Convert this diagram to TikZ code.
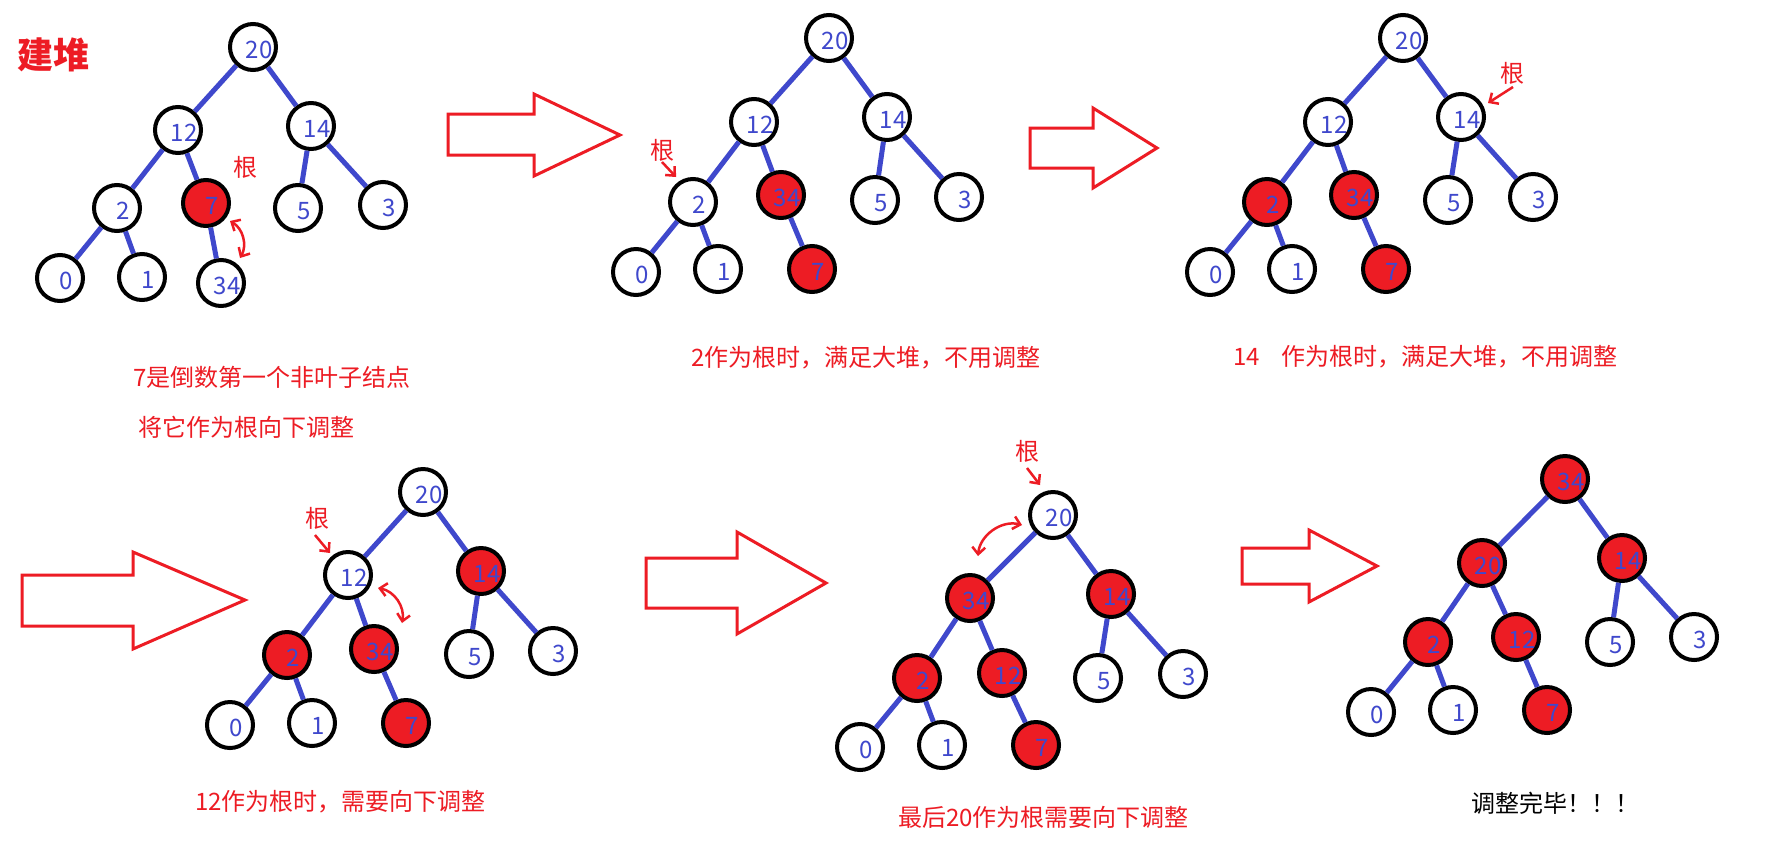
\documentclass[tikz,border=0pt]{standalone}
\usepackage{fontspec}
\newfontfamily\cjk{Noto Sans CJK SC}
\usetikzlibrary{arrows.meta}
\definecolor{hblue}{HTML}{3F48CC}
\definecolor{hred}{HTML}{ED1C24}
\begin{document}
\begin{tikzpicture}[x=1pt,y=-1pt,
 numlab/.style={text=hblue, font=\cjk\fontsize{24}{24}\selectfont, xshift=6pt, yshift=-3pt, inner sep=0pt},
 hn/.style={circle, draw=black, line width=4pt, minimum size=46pt, inner sep=0pt, label={[numlab]center:#1}},
 hr/.style={hn=#1, fill=hred},
 ed/.style={draw=hblue, line width=5pt},
 note/.style={text=hred, font=\cjk\fontsize{24}{28}\selectfont, anchor=west, inner sep=0pt},
 gen/.style={text=hred, font=\cjk\fontsize{24}{28}\selectfont, inner sep=0pt},
 bigarrow/.style={draw=hred, line width=3pt, line join=miter},
 swapar/.style={draw=hred, line width=2.5pt, {Straight Barb[length=7pt,width=13pt]}-{Straight Barb[length=7pt,width=13pt]}},
 ptr/.style={draw=hred, line width=2.5pt, -{Straight Barb[length=7pt,width=13pt]}},
]
\useasboundingbox (0,0) rectangle (1784,847);
\fill[white] (0,0) rectangle (1784,847);

% title
\node[text=hred, font=\cjk\bfseries\fontsize{36}{40}\selectfont, inner sep=0pt] (title) at (53,55) {建堆};

% ---------- panel 1 ----------
\node[hn=20] (a20) at (253,47) {};
\node[hn=12] (a12) at (178,130) {};
\node[hn=14] (a14) at (311,126) {};
\node[hn=2]  (a2)  at (117,208) {};
\node[hr=7]  (a7)  at (206,203) {};
\node[hn=5]  (a5)  at (298,208) {};
\node[hn=3]  (a3)  at (383,205) {};
\node[hn=0]  (a0)  at (60,278) {};
\node[hn=1]  (a1)  at (142,277) {};
\node[hn=34] (a34) at (221,283) {};
\foreach \p/\c in {a20/a12,a20/a14,a12/a2,a12/a7,a14/a5,a14/a3,a2/a0,a2/a1,a7/a34} \draw[ed] (\p) -- (\c);
\node[gen] (g1) at (245,167) {根};
\coordinate (s1a) at (230,221);
\coordinate (s1b) at (240,258);
\draw[swapar] (s1a) to[bend left=45] (s1b);

% ---------- panel 2 ----------
\node[hn=20] (b20) at (829,38) {};
\node[hn=12] (b12) at (754,122) {};
\node[hn=14] (b14) at (887,117) {};
\node[hn=2]  (b2)  at (693,202) {};
\node[hr=34] (b34) at (781,195) {};
\node[hn=5]  (b5)  at (875,200) {};
\node[hn=3]  (b3)  at (959,197) {};
\node[hn=0]  (b0)  at (636,272) {};
\node[hn=1]  (b1)  at (718,269) {};
\node[hr=7]  (b7)  at (812,269) {};
\foreach \p/\c in {b20/b12,b20/b14,b12/b2,b12/b34,b14/b5,b14/b3,b2/b0,b2/b1,b34/b7} \draw[ed] (\p) -- (\c);
\node[gen] (g2) at (662,150) {根};
\coordinate (p2a) at (662,162);
\coordinate (p2b) at (676,177);
\draw[ptr] (p2a) -- (p2b);

% ---------- panel 3 ----------
\node[hn=20] (c20) at (1403,38) {};
\node[hn=12] (c12) at (1328,122) {};
\node[hn=14] (c14) at (1461,117) {};
\node[hr=2]  (c2)  at (1267,202) {};
\node[hr=34] (c34) at (1354,195) {};
\node[hn=5]  (c5)  at (1448,200) {};
\node[hn=3]  (c3)  at (1533,197) {};
\node[hn=0]  (c0)  at (1210,272) {};
\node[hn=1]  (c1)  at (1292,269) {};
\node[hr=7]  (c7)  at (1386,269) {};
\foreach \p/\c in {c20/c12,c20/c14,c12/c2,c12/c34,c14/c5,c14/c3,c2/c0,c2/c1,c34/c7} \draw[ed] (\p) -- (\c);
\node[gen] (g3) at (1512,73) {根};
\coordinate (p3a) at (1513,87);
\coordinate (p3b) at (1488,103);
\draw[ptr] (p3a) -- (p3b);

% ---------- panel 4 ----------
\node[hn=20] (d20) at (423,492) {};
\node[hn=12] (d12) at (348,575) {};
\node[hr=14] (d14) at (481,571) {};
\node[hr=2]  (d2)  at (287,655) {};
\node[hr=34] (d34) at (374,649) {};
\node[hn=5]  (d5)  at (469,654) {};
\node[hn=3]  (d3)  at (553,651) {};
\node[hn=0]  (d0)  at (230,725) {};
\node[hn=1]  (d1)  at (312,723) {};
\node[hr=7]  (d7)  at (406,723) {};
\foreach \p/\c in {d20/d12,d20/d14,d12/d2,d12/d34,d14/d5,d14/d3,d2/d0,d2/d1,d34/d7} \draw[ed] (\p) -- (\c);
\node[gen] (g4) at (317,518) {根};
\coordinate (p4a) at (315,535);
\coordinate (p4b) at (330,553);
\draw[ptr] (p4a) -- (p4b);
\coordinate (s4a) at (378,588);
\coordinate (s4b) at (402,623);
\draw[swapar] (s4a) to[bend left=45] (s4b);

% ---------- panel 5 ----------
\node[hn=20] (e20) at (1053,515) {};
\node[hr=34] (e34) at (970,598) {};
\node[hr=14] (e14) at (1111,594) {};
\node[hr=2]  (e2)  at (917,678) {};
\node[hr=12] (e12) at (1002,673) {};
\node[hn=5]  (e5)  at (1098,678) {};
\node[hn=3]  (e3)  at (1183,674) {};
\node[hn=0]  (e0)  at (860,747) {};
\node[hn=1]  (e1)  at (942,745) {};
\node[hr=7]  (e7)  at (1036,745) {};
\foreach \p/\c in {e20/e34,e20/e14,e34/e2,e34/e12,e14/e5,e14/e3,e2/e0,e2/e1,e12/e7} \draw[ed] (\p) -- (\c);
\node[gen] (g5) at (1027,451) {根};
\coordinate (p5a) at (1027,468);
\coordinate (p5b) at (1040,485);
\draw[ptr] (p5a) -- (p5b);
\coordinate (s5a) at (1022,525);
\coordinate (s5b) at (978,556);
\draw[swapar] (s5a) to[bend right=50] (s5b);

% ---------- panel 6 ----------
\node[hr=34] (f34) at (1565,479) {};
\node[hr=20] (f20) at (1482,563) {};
\node[hr=14] (f14) at (1622,558) {};
\node[hr=2]  (f2)  at (1428,642) {};
\node[hr=12] (f12) at (1516,637) {};
\node[hn=5]  (f5)  at (1610,642) {};
\node[hn=3]  (f3)  at (1694,637) {};
\node[hn=0]  (f0)  at (1371,712) {};
\node[hn=1]  (f1)  at (1453,710) {};
\node[hr=7]  (f7)  at (1547,710) {};
\foreach \p/\c in {f34/f20,f34/f14,f20/f2,f20/f12,f14/f5,f14/f3,f2/f0,f2/f1,f12/f7} \draw[ed] (\p) -- (\c);

% ---------- big arrows ----------
\draw[bigarrow] (448,114) -- (534,114) -- (534,94) -- (620,135) -- (534,176) -- (534,155) -- (448,155) -- cycle;
\draw[bigarrow] (1030,128) -- (1093,128) -- (1093,108) -- (1157,148) -- (1093,188) -- (1093,168) -- (1030,168) -- cycle;
\draw[bigarrow] (22,575) -- (133,575) -- (133,552) -- (245,600) -- (133,649) -- (133,626) -- (22,626) -- cycle;
\draw[bigarrow] (646,558) -- (737,558) -- (737,532) -- (826,583) -- (737,634) -- (737,608) -- (646,608) -- cycle;
\draw[bigarrow] (1242,548) -- (1309,548) -- (1309,530) -- (1377,566) -- (1309,602) -- (1309,584) -- (1242,584) -- cycle;

% ---------- captions ----------
\node[note] (t1) at (133,377) {7是倒数第一个非叶子结点};
\node[note] (t2) at (138,427) {将它作为根向下调整};
\node[note] (t3) at (691,358) {2作为根时，满足大堆，不用调整};
\node[note] (t4) at (1233,357) {14\hspace{22pt}作为根时，满足大堆，不用调整};
\node[note] (t5) at (195,802) {12作为根时，需要向下调整};
\node[note] (t6) at (898,817) {最后20作为根需要向下调整};
\node[note, text=black] (t7) at (1471,803) {调整完毕！！！};
\end{tikzpicture}
\end{document}
